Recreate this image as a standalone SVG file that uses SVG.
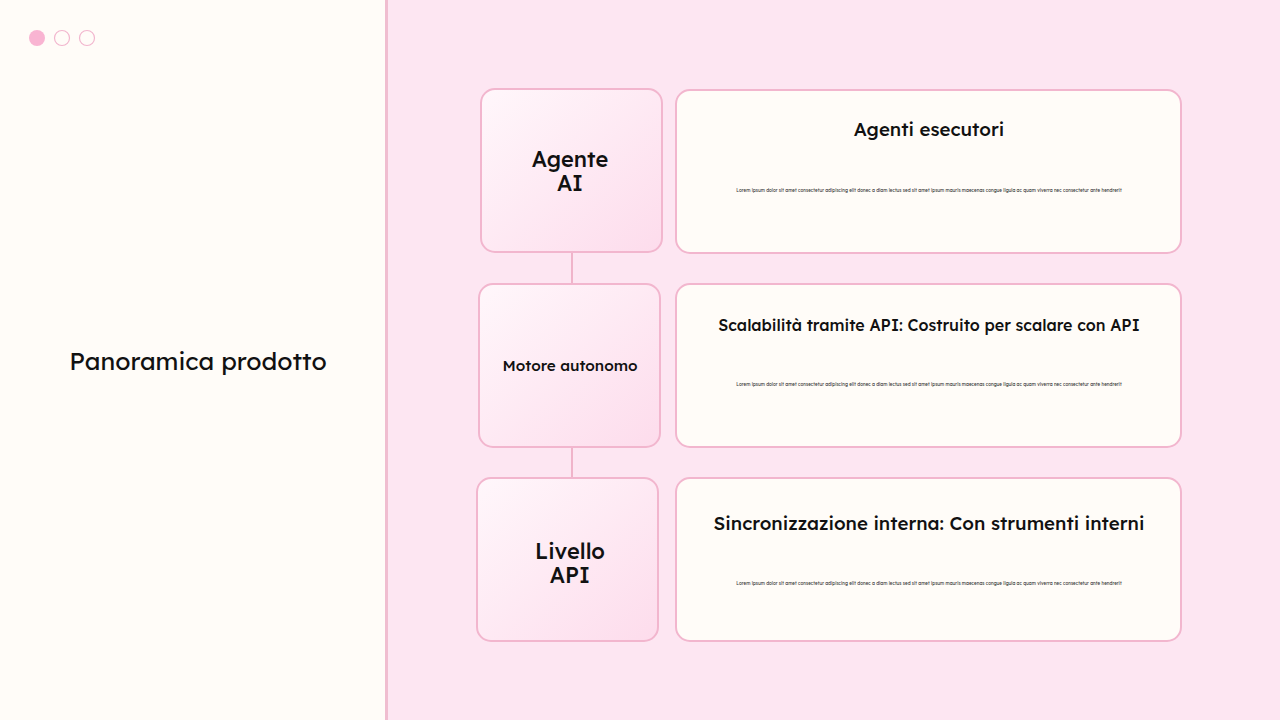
<svg xmlns="http://www.w3.org/2000/svg" width="1280" height="720" viewBox="0 0 1280 720">
<defs>
<linearGradient id="g" x1="0" y1="0" x2="1" y2="1">
<stop offset="0" stop-color="#FFF7FB"/>
<stop offset="1" stop-color="#FDDCEC"/>
</linearGradient>
<style>
.lb{fill:url(#g);stroke:#F2B6CE;stroke-width:2}
.rb{fill:#FFFCF8;stroke:#F2B6CE;stroke-width:2}
.t{font-family:Lexend,Inter,"Noto Sans",sans-serif;fill:#111;text-anchor:middle}
.h{font-size:18.7px;font-weight:500}
.n{font-size:21.8px;font-weight:500}
.s{font-size:4.55px;fill:#333}
.c{stroke:#F0B4CA;stroke-width:2;fill:none}
</style>
</defs>
<rect x="0" y="0" width="1280" height="720" fill="#FDE6F2"/>
<rect x="0" y="0" width="386" height="720" fill="#FFFCF8"/>
<rect x="385" y="0" width="3" height="720" fill="#F0BDD0"/>
<g id="dots">
<circle cx="37" cy="38" r="8" fill="#F9B4D2"/>
<circle cx="62" cy="38" r="7.5" fill="#FFFCF8" stroke="#F2B6CE" stroke-width="1.2"/>
<circle cx="87" cy="38" r="7.5" fill="#FFFCF8" stroke="#F2B6CE" stroke-width="1.2"/>
</g>
<text class="t" x="198" y="370" font-size="24.8">Panoramica prodotto</text>
<g id="connectors">
<line class="c" x1="572" y1="252" x2="572" y2="284"/>
<line class="c" x1="572" y1="447" x2="572" y2="478"/>
</g>
<g id="node1">
<rect class="lb" x="481" y="89" width="181" height="163" rx="14"/>
<text class="t n" x="570" y="167">Agente</text>
<text class="t n" x="570" y="191">AI</text>
</g>
<g id="node2">
<rect class="lb" x="479" y="284" width="181" height="163" rx="14"/>
<text class="t" x="570" y="371" font-size="15.3" font-weight="500">Motore autonomo</text>
</g>
<g id="node3">
<rect class="lb" x="477" y="478" width="181" height="163" rx="14"/>
<text class="t n" x="570" y="559">Livello</text>
<text class="t n" x="570" y="583">API</text>
</g>
<g id="card1">
<rect class="rb" x="676" y="90" width="505" height="163" rx="14"/>
<text class="t h" x="929" y="136">Agenti esecutori</text>
<text class="t s" x="929" y="192">Lorem ipsum dolor sit amet consectetur adipiscing elit donec a diam lectus sed sit amet ipsum mauris maecenas congue ligula ac quam viverra nec consectetur ante hendrerit</text>
</g>
<g id="card2">
<rect class="rb" x="676" y="284" width="505" height="163" rx="14"/>
<text class="t" x="929" y="331" font-size="16" font-weight="500">Scalabilità tramite API: Costruito per scalare con API</text>
<text class="t s" x="929" y="386">Lorem ipsum dolor sit amet consectetur adipiscing elit donec a diam lectus sed sit amet ipsum mauris maecenas congue ligula ac quam viverra nec consectetur ante hendrerit</text>
</g>
<g id="card3">
<rect class="rb" x="676" y="478" width="505" height="163" rx="14"/>
<text class="t h" x="929" y="530">Sincronizzazione interna: Con strumenti interni</text>
<text class="t s" x="929" y="585">Lorem ipsum dolor sit amet consectetur adipiscing elit donec a diam lectus sed sit amet ipsum mauris maecenas congue ligula ac quam viverra nec consectetur ante hendrerit</text>
</g>
</svg>
